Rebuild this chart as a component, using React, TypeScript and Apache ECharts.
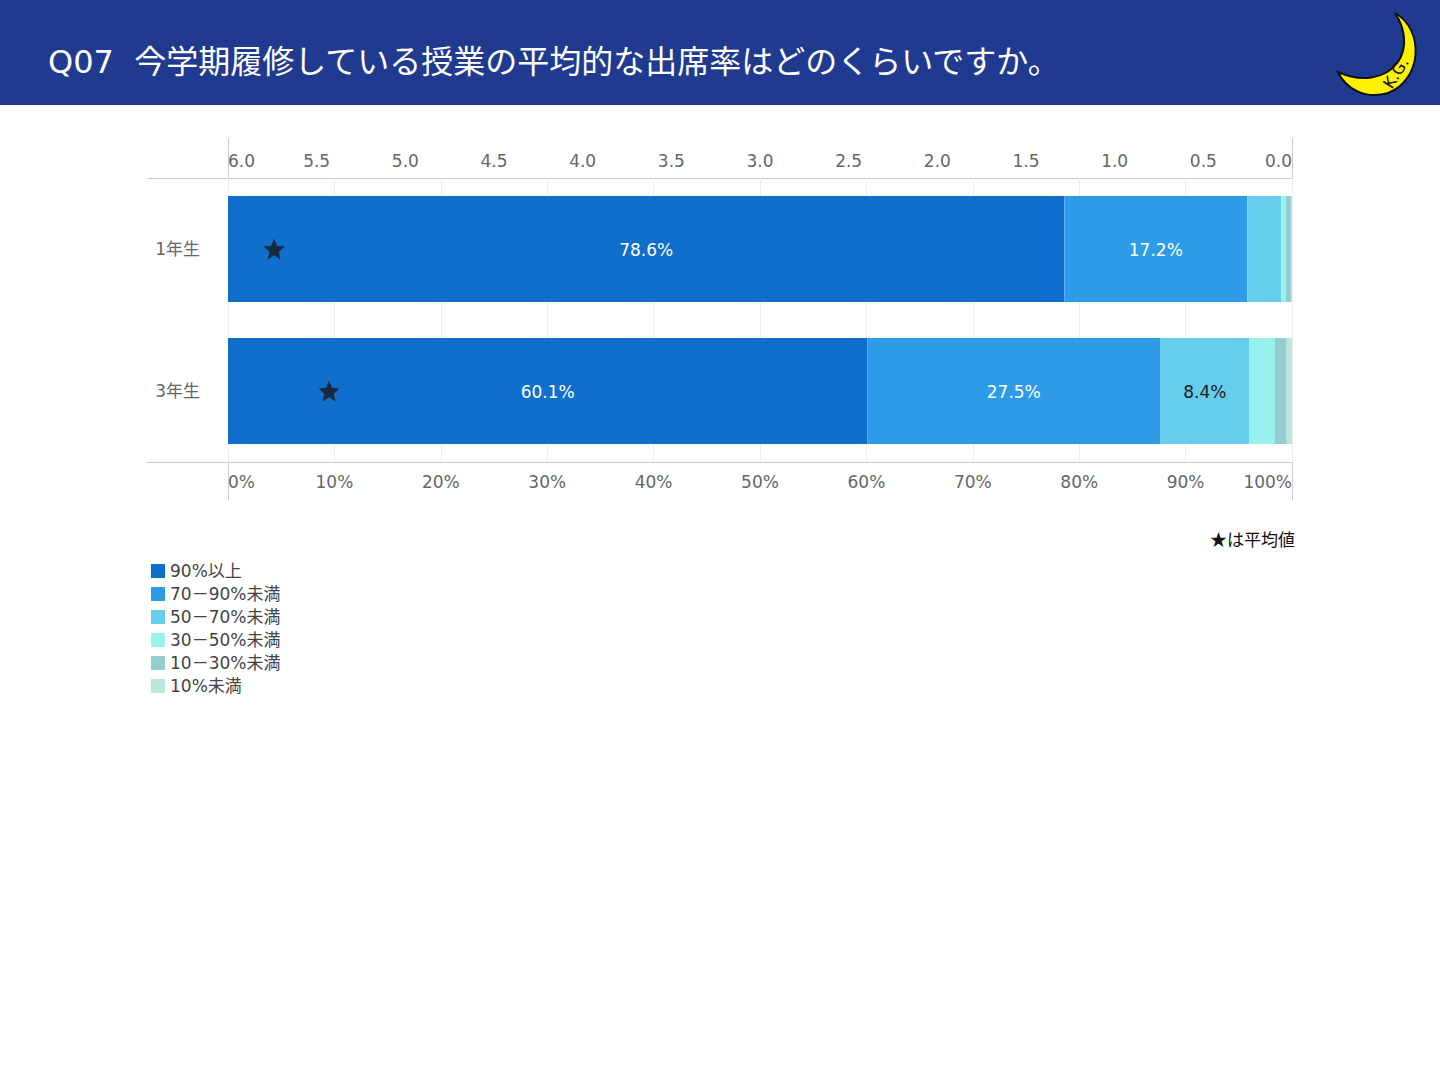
import React, { useEffect, useRef } from "react";
import * as echarts from "echarts";

const categories = ["1年生", "3年生"];
const seriesNames = ["90%以上", "70－90%未満", "50－70%未満", "30－50%未満", "10－30%未満", "10%未満"];
const colors = ["#106FCC", "#2E9BE8", "#66CDEC", "#99F1EE", "#93CDD0", "#BDE6DB"];
const labelColors = ["#ffffff", "#ffffff", "#1a1a1a", "#1a1a1a", "#1a1a1a", "#1a1a1a"];
const s90 = [78.6, 60.1];
const s70 = [17.2, 27.5];
const s50 = [3.2, 8.4];
const s30 = [0.4, 2.4];
const s10 = [0.5, 1.1];
const s0 = [0.1, 0.5];
const seriesValues = [s90, s70, s50, s30, s10, s0];
const averages = [5.74, 5.43];
const title = "Q07  今学期履修している授業の平均的な出席率はどのくらいですか。";

const moonPath =
  "M1395 13 C1425 30 1422 80 1388 93 C1365 100 1345 88 1338 72 C1360 82 1385 80 1398 62 C1408 47 1405 28 1395 13 Z";
echarts.graphic.registerShape("moon", echarts.graphic.extendPath(moonPath, {}));

const FONT = "'DejaVu Sans', 'Noto Sans CJK JP', sans-serif";

export default function App() {
  const ref = useRef<HTMLDivElement>(null);
  useEffect(() => {
    if (!ref.current) return;
    const chart = echarts.init(ref.current, undefined, { renderer: "svg" });
    const barSeries = seriesNames.map((name, i) => ({
      name,
      type: "bar",
      stack: "total",
      xAxisIndex: 0,
      barWidth: 106,
      itemStyle: { color: colors[i] },
      label: {
        show: true,
        position: "inside",
        color: labelColors[i],
        fontSize: 17,
        fontFamily: FONT,
        offset: [0, 1],
        formatter: (p: any) => (p.value >= 5 ? p.value.toFixed(1) + "%" : ""),
      },
      data: seriesValues[i],
    }));
    const lineStyle = { stroke: "#cccccc", lineWidth: 1 };
    chart.setOption({
      animation: false,
      textStyle: { fontFamily: FONT },
      grid: { left: 228, right: 148, top: 178, bottom: 618 },
      legend: {
        data: seriesNames,
        orient: "vertical",
        left: 151,
        top: 562,
        padding: 0,
        itemWidth: 14,
        itemHeight: 14,
        itemGap: 5,
        icon: "rect",
        textStyle: { fontSize: 17, color: "#444", fontFamily: FONT, lineHeight: 18 },
      },
      xAxis: [
        {
          type: "value",
          position: "bottom",
          min: 0,
          max: 100,
          interval: 10,
          axisLine: { show: false },
          axisTick: { show: false },
          splitLine: { show: true, lineStyle: { color: "#eeeeee" } },
          axisLabel: {
            color: "#666",
            fontSize: 17,
            margin: 11,
            formatter: (v: number) => v + "%",
            alignMinLabel: "left",
            alignMaxLabel: "right",
          },
        },
        {
          type: "value",
          position: "top",
          min: 0,
          max: 6,
          interval: 0.5,
          inverse: true,
          axisLine: { show: false },
          axisTick: { show: false },
          splitLine: { show: false },
          axisLabel: {
            color: "#666",
            fontSize: 17,
            margin: 9,
            formatter: (v: number) => v.toFixed(1),
            alignMinLabel: "right",
            alignMaxLabel: "left",
          },
        },
      ],
      yAxis: {
        type: "category",
        data: categories,
        inverse: true,
        axisLine: { show: false },
        axisTick: { show: false },
        axisLabel: { color: "#666", fontSize: 17, margin: 28, padding: [2, 0, 0, 0] },
      },
      series: [
        ...barSeries,
        {
          name: "平均値",
          type: "scatter",
          xAxisIndex: 1,
          symbol:
            "path://M12,1 L15.1,8.6 L23.4,9.3 L17.1,14.7 L19,22.8 L12,18.5 L5,22.8 L6.9,14.7 L0.6,9.3 L8.9,8.6 Z",
          symbolSize: 21,
          itemStyle: { color: "#1a1a1a" },
          z: 10,
          data: categories.map((c, i) => [averages[i], c]),
        },
      ],
      graphic: [
        { type: "rect", left: 0, top: 0, shape: { width: 1440, height: 105 }, style: { fill: "#1F3A8F" }, z: 0 },
        {
          type: "text",
          left: 48,
          top: 46,
          style: { text: title, fill: "#ffffff", fontSize: 32, fontFamily: "'DejaVu Sans', 'Noto Sans CJK JP', sans-serif" },
        },
        {
          type: "moon",
          x: 0,
          y: 0,
          style: { fill: "#FFF200", stroke: "#111", lineWidth: 2 },
        },
        {
          type: "text",
          x: 1396,
          y: 73,
          rotation: 1.0,
          style: {
            text: "K.G.",
            fill: "#111",
            fontSize: 16,
            fontFamily: "'DejaVu Sans', sans-serif",
            align: "center",
            verticalAlign: "middle",
          },
        },
        { type: "line", shape: { x1: 147, y1: 178.5, x2: 1292, y2: 178.5 }, style: lineStyle },
        { type: "line", shape: { x1: 147, y1: 462.5, x2: 1292, y2: 462.5 }, style: lineStyle },
        { type: "line", shape: { x1: 228.5, y1: 138, x2: 228.5, y2: 500 }, style: lineStyle },
        { type: "line", shape: { x1: 1292.5, y1: 138, x2: 1292.5, y2: 500 }, style: lineStyle },
        {
          type: "text",
          right: 145,
          top: 530,
          style: { text: "★は平均値", fill: "#111", fontSize: 17, fontFamily: "'Noto Sans CJK JP', sans-serif" },
        },
      ],
    });
    return () => chart.dispose();
  }, []);
  return (
    <div
      ref={ref}
      style={{ position: "absolute", left: 0, top: 0, width: 1440, height: 1080, background: "#fff" }}
    />
  );
}
